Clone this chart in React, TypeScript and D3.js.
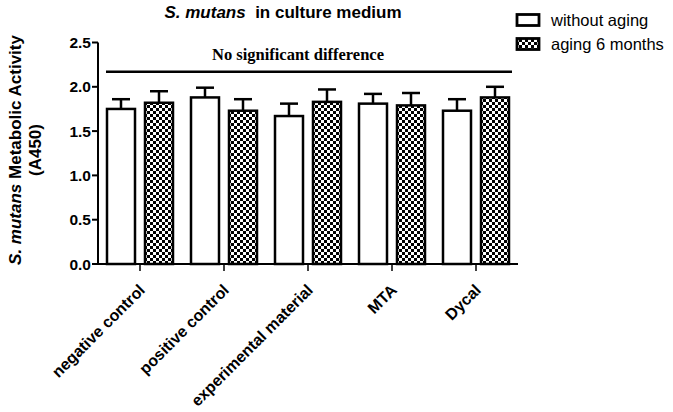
import React, { useEffect, useRef } from "react";
import * as d3 from "d3";

const categories = ["negative control", "positive control", "experimental material", "MTA", "Dycal"];
const seriesNames = ["without aging", "aging 6 months"];
const withoutAging = [1.75, 1.88, 1.67, 1.81, 1.73];
const withoutAgingSD = [0.11, 0.11, 0.14, 0.11, 0.13];
const aging6 = [1.82, 1.73, 1.83, 1.79, 1.88];
const aging6SD = [0.13, 0.13, 0.14, 0.14, 0.12];
const yTicks = [0, 0.5, 1.0, 1.5, 2.0, 2.5];
const sigLevel = 2.17;
const sigText = "No significant difference";

const W = 673;
const H = 412;

export default function App() {
  const ref = useRef<SVGSVGElement | null>(null);

  useEffect(() => {
    const svg = d3.select(ref.current);
    svg.selectAll("*").remove();

    const defs = svg.append("defs");
    const pat = defs
      .append("pattern")
      .attr("id", "checker")
      .attr("patternUnits", "userSpaceOnUse")
      .attr("width", 6)
      .attr("height", 6);
    pat.append("rect").attr("width", 6).attr("height", 6).attr("fill", "#fff");
    pat.append("rect").attr("x", 0).attr("y", 0).attr("width", 3).attr("height", 3).attr("fill", "#000");
    pat.append("rect").attr("x", 3).attr("y", 3).attr("width", 3).attr("height", 3).attr("fill", "#000");

    const left = 98,
      right = 518,
      top = 42.5,
      bottom = 264;

    const x = d3.scaleBand<string>().domain(categories).range([left, right]).padding(0);
    const y = d3.scaleLinear().domain([0, 2.5]).range([bottom, top]);

    const font = "'Liberation Sans', Arial, sans-serif";

    // Title
    const title = svg
      .append("text")
      .attr("x", 283)
      .attr("y", 18)
      .attr("text-anchor", "middle")
      .attr("font-family", font)
      .attr("font-weight", "bold")
      .attr("font-size", 17);
    title.append("tspan").attr("font-style", "italic").text("S. mutans");
    title.append("tspan").text("\u00a0 in culture medium");

    // Y axis
    const g = svg.append("g");
    g.append("line")
      .attr("x1", left)
      .attr("x2", left)
      .attr("y1", y(2.5))
      .attr("y2", bottom + 1)
      .attr("stroke", "#000")
      .attr("stroke-width", 2);
    yTicks.forEach((t) => {
      g.append("line")
        .attr("x1", left - 6)
        .attr("x2", left)
        .attr("y1", y(t))
        .attr("y2", y(t))
        .attr("stroke", "#000")
        .attr("stroke-width", 2);
      g.append("text")
        .attr("x", left - 7)
        .attr("y", y(t))
        .attr("dy", "0.36em")
        .attr("text-anchor", "end")
        .attr("font-family", font)
        .attr("font-weight", "bold")
        .attr("font-size", 15.5)
        .text(d3.format(".1f")(t));
    });

    // X axis
    g.append("line")
      .attr("x1", left - 1)
      .attr("x2", right)
      .attr("y1", bottom)
      .attr("y2", bottom)
      .attr("stroke", "#000")
      .attr("stroke-width", 2);

    const bw = 28;
    const gap = 5;

    categories.forEach((c, i) => {
      const cx = (x(c) as number) + x.bandwidth() / 2;
      const pairs = [
        { v: withoutAging[i], sd: withoutAgingSD[i], x0: cx - gap - bw, fill: "#fff" },
        { v: aging6[i], sd: aging6SD[i], x0: cx + gap, fill: "url(#checker)" },
      ];
      pairs.forEach((p) => {
        const bc = p.x0 + bw / 2;
        g.append("line")
          .attr("x1", bc)
          .attr("x2", bc)
          .attr("y1", y(p.v))
          .attr("y2", y(p.v + p.sd))
          .attr("stroke", "#000")
          .attr("stroke-width", 2.5);
        g.append("line")
          .attr("x1", bc - 9)
          .attr("x2", bc + 9)
          .attr("y1", y(p.v + p.sd))
          .attr("y2", y(p.v + p.sd))
          .attr("stroke", "#000")
          .attr("stroke-width", 2.5);
        g.append("rect")
          .attr("x", p.x0)
          .attr("y", y(p.v))
          .attr("width", bw)
          .attr("height", bottom - y(p.v))
          .attr("fill", p.fill)
          .attr("stroke", "#000")
          .attr("stroke-width", 2.5);
      });
      g.append("line")
        .attr("x1", cx)
        .attr("x2", cx)
        .attr("y1", bottom)
        .attr("y2", bottom + 7)
        .attr("stroke", "#000")
        .attr("stroke-width", 1.5);
      g.append("text")
        .attr("transform", `translate(${cx + 6},${bottom + 27}) rotate(-45)`)
        .attr("text-anchor", "end")
        .attr("font-family", font)
        .attr("font-weight", "bold")
        .attr("font-size", 16)
        .text(c);
    });

    // significance line
    g.append("line")
      .attr("x1", 106)
      .attr("x2", 512)
      .attr("y1", y(sigLevel))
      .attr("y2", y(sigLevel))
      .attr("stroke", "#000")
      .attr("stroke-width", 2.5);
    g.append("text")
      .attr("x", 298)
      .attr("y", y(sigLevel) - 12)
      .attr("text-anchor", "middle")
      .attr("font-family", "'Liberation Serif', 'Times New Roman', serif")
      .attr("font-weight", "bold")
      .attr("font-size", 16.5)
      .text(sigText);

    // Y label
    const yl = svg
      .append("text")
      .attr("transform", `translate(21,150) rotate(-90)`)
      .attr("text-anchor", "middle")
      .attr("font-family", font)
      .attr("font-weight", "bold")
      .attr("font-size", 17);
    yl.append("tspan").attr("font-style", "italic").text("S. mutans");
    yl.append("tspan").text(" Metabolic Activity");
    svg
      .append("text")
      .attr("transform", `translate(41,150) rotate(-90)`)
      .attr("text-anchor", "middle")
      .attr("font-family", font)
      .attr("font-weight", "bold")
      .attr("font-size", 17)
      .text("(A450)");

    // Legend
    const lg = svg.append("g");
    seriesNames.forEach((s, i) => {
      const ly = 20 + i * 24;
      lg.append("rect")
        .attr("x", 517)
        .attr("y", ly - 5.5)
        .attr("width", 22)
        .attr("height", 11)
        .attr("fill", i === 0 ? "#fff" : "url(#checker)")
        .attr("stroke", "#000")
        .attr("stroke-width", 2.8);
      lg.append("text")
        .attr("x", 551)
        .attr("y", ly)
        .attr("dy", "0.35em")
        .attr("font-family", font)
        .attr("font-size", 16.5)
        .text(s);
    });
  }, []);

  return (
    <svg
      ref={ref}
      width={W}
      height={H}
      viewBox={`0 0 ${W} ${H}`}
      style={{ position: "absolute", left: 0, top: 0, background: "#fff" }}
    />
  );
}
